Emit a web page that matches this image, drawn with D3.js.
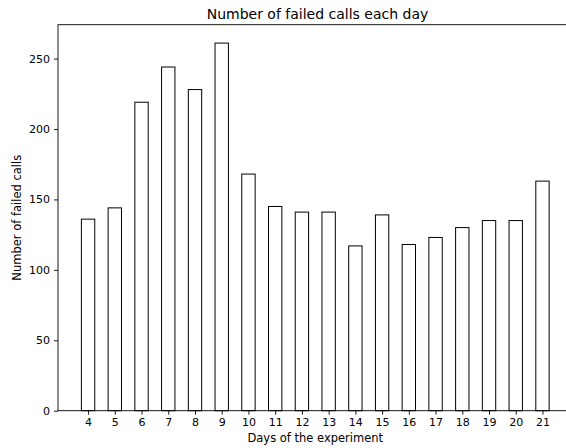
<!DOCTYPE html>
<html>
<head>
<meta charset="utf-8">
<script src="https://cdn.jsdelivr.net/npm/d3@7"></script>
<style>
  body { margin: 0; background: #fff; }
  svg { display: block; font-family: "DejaVu Sans", sans-serif; }
</style>
</head>
<body>
<div class="wrapper"></div>
<script>
// data
var days = [4, 5, 6, 7, 8, 9, 10, 11, 12, 13, 14, 15, 16, 17, 18, 19, 20, 21];
var failedCalls = [136, 144, 219, 244, 228, 261, 168, 145, 141, 141, 117, 139, 118, 123, 130, 135, 135, 163];
var yTicks = [0, 50, 100, 150, 200, 250];

var W = 566, H = 448;
var plotLeft = 58, plotTop = 24.7, plotBottom = 410.7;
var tickFont = 11;

var svg = d3.select('.wrapper').append('svg')
            .attr('width', W)
            .attr('height', H);

// matplotlib-like margins: 5% on each side
var xMin = d3.min(days) - 0.25, xMax = d3.max(days) + 0.25,
    pad = (xMax - xMin) * 0.05;
var x = d3.scaleLinear()
          .domain([xMin - pad, xMax + pad])
          .range([plotLeft, plotLeft + 19.25 * 26.73]);

var y = d3.scaleLinear()
          .domain([0, d3.max(failedCalls) * 1.05])
          .range([plotBottom, plotTop]);

var barW = x(0.5) - x(0);

svg.selectAll('rect.bar')
   .data(days)
   .enter()
   .append('rect')
   .attr('class', 'bar')
   .attr('x', d => x(d - 0.25))
   .attr('y', (d, i) => y(failedCalls[i]))
   .attr('width', barW)
   .attr('height', (d, i) => y(0) - y(failedCalls[i]))
   .attr('fill', 'white')
   .attr('stroke', 'black')
   .attr('stroke-width', 1);

// axes
var xAxis = d3.axisBottom(x).tickValues(days).tickSize(4).tickPadding(4).tickFormat(d3.format('d'));
var yAxis = d3.axisLeft(y).tickValues(yTicks).tickSize(4).tickPadding(4).tickFormat(d3.format('d'));

var gx = svg.append('g').attr('transform', `translate(0,${plotBottom})`).call(xAxis);
var gy = svg.append('g').attr('transform', `translate(${plotLeft},0)`).call(yAxis);

[gx, gy].forEach(g => {
  g.select('.domain').remove();
  g.selectAll('text').attr('font-size', tickFont).attr('fill', '#000').attr('font-family', '"DejaVu Sans", sans-serif');
  g.selectAll('line').attr('stroke', '#000').attr('stroke-width', 0.9);
});

// spines (right one falls outside the picture)
svg.append('rect')
   .attr('x', plotLeft)
   .attr('y', plotTop)
   .attr('width', x.range()[1] - plotLeft)
   .attr('height', plotBottom - plotTop)
   .attr('fill', 'none')
   .attr('stroke', '#000')
   .attr('stroke-width', 0.9);

// labels
svg.append('text')
   .attr('x', 317.5)
   .attr('y', 18.5)
   .attr('text-anchor', 'middle')
   .attr('font-size', 14)
   .text('Number of failed calls each day');

svg.append('text')
   .attr('x', (plotLeft + x.range()[1]) / 2)
   .attr('y', 442)
   .attr('text-anchor', 'middle')
   .attr('font-size', 11.5)
   .text('Days of the experiment');

svg.append('text')
   .attr('transform', `translate(21,${(plotTop + plotBottom) / 2}) rotate(-90)`)
   .attr('text-anchor', 'middle')
   .attr('font-size', 11.5)
   .text('Number of failed calls');
</script>
</body>
</html>
